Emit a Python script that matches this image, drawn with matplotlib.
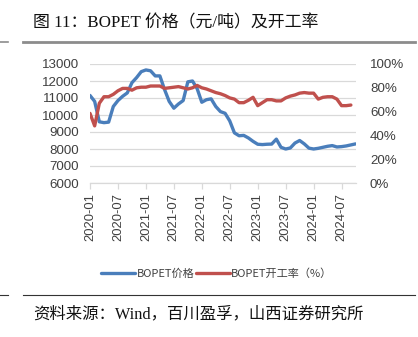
import numpy as np
import pandas as pd
import matplotlib.pyplot as plt
from matplotlib.lines import Line2D
from matplotlib.ticker import FuncFormatter

plt.rcParams['font.family'] = ['Liberation Sans', 'Noto Sans CJK SC']

# Monthly series, 2020-01 .. 2024-10
months = pd.period_range('2020-01', '2024-10', freq='M')

price = [11150, 10800, 9600, 9550, 9580, 10500, 10850, 11100, 11300, 11900,
         12200, 12550, 12650, 12600, 12300, 12300, 11500, 10800, 10400, 10650,
         10850, 11950, 12000, 11550, 10750, 10900, 10950, 10500, 10200, 10100,
         9650, 8950, 8780, 8800, 8650, 8450, 8280, 8260, 8280, 8290,
         8580, 8100, 8000, 8060, 8350, 8500, 8300, 8050, 8000, 8040,
         8100, 8160, 8200, 8120, 8140, 8180, 8240, 8300]

rate = [58.5, 48, 67, 72.5, 72.5, 74.5, 77.5, 79.5, 79.5, 78,
        80, 80.5, 80.5, 81.5, 81.5, 81.5, 79.5, 80, 80.5, 81,
        80, 79, 80, 82, 80, 79, 77.5, 76, 75, 73.5,
        71.5, 70.5, 67.5, 67.5, 69.5, 72, 65, 67.5, 70, 70,
        69, 69, 71.5, 73, 74, 75.5, 76, 75.5, 75.5, 70.5,
        72, 72.5, 72.5, 70.5, 65, 65, 65.5, np.nan]

tick_labels = ['2020-01', '2020-07', '2021-01', '2021-07', '2022-01',
               '2022-07', '2023-01', '2023-07', '2024-01', '2024-07']

blue = '#4a7ebb'
red = '#c0504d'
txt = '#404040'

fig = plt.figure(figsize=(4.18, 3.37), dpi=100)
ax = fig.add_axes([90 / 418, 1 - 183 / 337, 266 / 418, 119 / 337])
ax2 = ax.twinx()

x = np.arange(len(months))
l1, = ax.plot(x, price, color=blue, lw=2.4, solid_capstyle='round',
              solid_joinstyle='round', label='BOPET价格', zorder=3)
l2, = ax2.plot(x, rate, color=red, lw=2.4, solid_capstyle='round',
               solid_joinstyle='round', label='BOPET开工率（%）', zorder=3)

ax.set_xlim(0, len(months) - 1 + 0.1)
ax.set_ylim(6000, 13000)
ax.set_yticks(np.arange(6000, 13001, 1000))
ax2.set_ylim(0, 100)
ax2.set_yticks(np.arange(0, 101, 20))
ax2.yaxis.set_major_formatter(FuncFormatter(lambda v, p: f'{v:.0f}%'))

ax.set_xticks([months.get_loc(pd.Period(t, 'M')) for t in tick_labels])
ax.set_xticklabels(tick_labels, rotation=90)

ax.grid(axis='y', color='#d9d9d9', lw=0.9)
ax.set_axisbelow(True)
for a in (ax, ax2):
    for s in ('top', 'left', 'right', 'bottom'):
        a.spines[s].set_visible(False)
ax.spines['bottom'].set_visible(True)
ax.spines['bottom'].set_color('#d9d9d9')
ax.spines['bottom'].set_linewidth(0.9)

ax.tick_params(axis='x', length=4, width=0.9, color='#d9d9d9',
               labelsize=9.4, labelcolor=txt, pad=3)
ax.tick_params(axis='y', length=0, labelsize=9.6, labelcolor=txt, pad=8)
ax2.tick_params(axis='y', length=0, labelsize=9.6, labelcolor=txt, pad=10)

fig.legend(handles=[l1, l2], loc='center', bbox_to_anchor=(217 / 418, 1 - 274 / 337),
           ncol=2, frameon=False, handlelength=3.0, handletextpad=0.15,
           columnspacing=0.2, labelcolor=txt,
           prop={'family': ['Noto Sans CJK SC'], 'size': 8})

# header, rules and source note
fig.text(33 / 418, 1 - 23 / 337, '图 11：BOPET 价格（元/吨）及开工率',
         ha='left', va='center', fontsize=12.2, color='#111111',
         family=['Liberation Serif', 'Noto Sans CJK SC'])
fig.add_artist(Line2D([23 / 418, 415 / 418], [1 - 42 / 337] * 2,
                      color='#8c8c8c', lw=2))
fig.add_artist(Line2D([0, 8 / 418], [1 - 42 / 337] * 2, color='#8c8c8c', lw=1.2))
fig.add_artist(Line2D([23 / 418, 415 / 418], [1 - 295 / 337] * 2,
                      color='#333333', lw=0.8))
fig.add_artist(Line2D([0, 8 / 418], [1 - 295 / 337] * 2, color='#333333', lw=0.8))
fig.text(33 / 418, 1 - 314 / 337, '资料来源：Wind，百川盈孚，山西证券研究所',
         ha='left', va='center', fontsize=11.8, color='#111111',
         family=['Liberation Serif', 'Noto Sans CJK SC'])

fig.savefig('out.png', dpi=100, facecolor='white')
